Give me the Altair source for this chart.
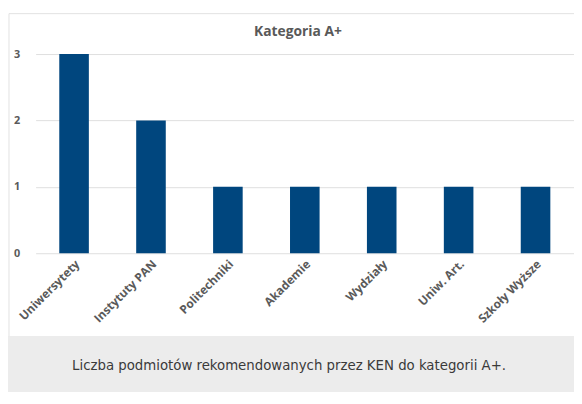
import altair as alt
import pandas as pd

categories = ["Uniwersytety", "Instytuty PAN", "Politechniki", "Akademie",
              "Wydziały", "Uniw. Art.", "Szkoły Wyższe"]
values = [3, 2, 1, 1, 1, 1, 1]
y_ticks = [0, 1, 2, 3]
title_text = "Kategoria A+"
caption_text = "Liczba podmiotów rekomendowanych przez KEN do kategorii A+."

df = pd.DataFrame({"kat": categories, "n": values})
one = pd.DataFrame({"a": [0]})

top_edge = alt.Chart(one).mark_rule(color="#e2e2e2", strokeWidth=1).encode(
    x=alt.value(-27), x2=alt.value(620), y=alt.value(-41)
)
left_edge = alt.Chart(one).mark_rule(color="#e2e2e2", strokeWidth=1).encode(
    x=alt.value(-27), y=alt.value(-41), y2=alt.value(286)
)
band = alt.Chart(one).mark_rect(fill="#ececec").encode(
    x=alt.value(-28), x2=alt.value(620), y=alt.value(286), y2=alt.value(400)
)

bars = alt.Chart(df).mark_bar(size=30, color="#00467e").encode(
    x=alt.X("kat:N", sort=categories,
            scale=alt.Scale(paddingInner=0, paddingOuter=0),
            axis=alt.Axis(title=None, labelAngle=-45, labelAlign="right",
                          labelBaseline="top", labelPadding=5, ticks=False,
                          domain=False, grid=False, labelFont="Open Sans",
                          labelFontWeight="bold", labelFontSize=12,
                          labelColor="#5a5a5a")),
    y=alt.Y("n:Q", scale=alt.Scale(domain=[0, 3], nice=False),
            axis=alt.Axis(title=None, values=y_ticks, format="d", ticks=False,
                          domain=False, grid=True, gridColor="#dedede",
                          labelPadding=16, labelFont="Open Sans",
                          labelFontWeight="bold", labelFontSize=11,
                          labelColor="#5a5a5a")),
)

title = alt.Chart(one).mark_text(
    text=title_text, font="Open Sans", fontSize=14, fontWeight="bold",
    color="#595959", align="center", baseline="middle"
).encode(x=alt.value(266), y=alt.value(-22))

caption = alt.Chart(one).mark_text(
    text=caption_text,
    font="DejaVu Sans Condensed, Roboto Condensed, Open Sans Condensed, Liberation Sans Narrow, Noto Sans",
    fontSize=15, color="#3a3a3a", align="center", baseline="alphabetic"
).encode(x=alt.value(257), y=alt.value(320))

chart = alt.layer(band, top_edge, left_edge, bars, title, caption).properties(
    width=546, height=202,
    autosize=alt.AutoSizeParams(type="none"),
    padding={"left": 28, "top": 44, "right": 0, "bottom": 138},
    background="white",
).configure_view(stroke=None)

chart.save("out.html", embed_options={"renderer": "svg", "actions": False})
